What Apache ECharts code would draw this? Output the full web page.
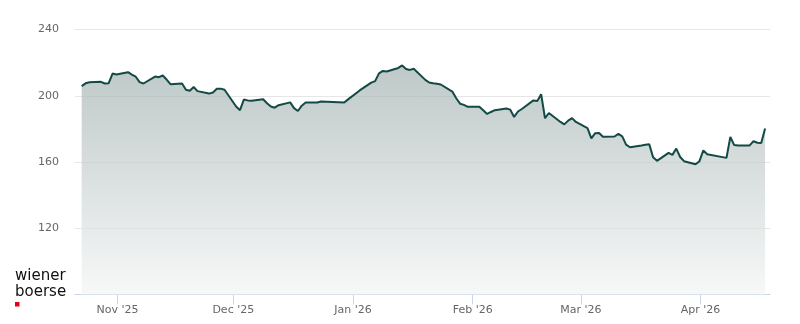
<!DOCTYPE html>
<html>
<head>
<meta charset="utf-8">
<script src="https://cdn.jsdelivr.net/npm/echarts@6/dist/echarts.min.js"></script>
<style>
html,body{margin:0;padding:0;background:#fff;}
#chart{width:800px;height:324px;}
</style>
</head>
<body>
<div id="chart"></div>
<script>
// ---- data ----
const dates = [
'2025-10-22','2025-10-23','2025-10-24','2025-10-27','2025-10-28','2025-10-29','2025-10-30','2025-10-31',
'2025-11-03','2025-11-04','2025-11-05','2025-11-06','2025-11-07',
'2025-11-10','2025-11-11','2025-11-12','2025-11-13','2025-11-14',
'2025-11-17','2025-11-18','2025-11-19','2025-11-20','2025-11-21',
'2025-11-24','2025-11-25','2025-11-26','2025-11-27','2025-11-28',
'2025-12-01','2025-12-02','2025-12-03','2025-12-04','2025-12-05',
'2025-12-08','2025-12-09','2025-12-10','2025-12-11','2025-12-12',
'2025-12-15','2025-12-16','2025-12-17','2025-12-18','2025-12-19',
'2025-12-22','2025-12-23','2025-12-29','2025-12-30',
'2026-01-02','2026-01-05','2026-01-06','2026-01-07','2026-01-08','2026-01-09',
'2026-01-12','2026-01-13','2026-01-14','2026-01-15','2026-01-16',
'2026-01-19','2026-01-20','2026-01-21','2026-01-22','2026-01-23',
'2026-01-26','2026-01-27','2026-01-28','2026-01-29','2026-01-30',
'2026-02-02','2026-02-03','2026-02-04','2026-02-05','2026-02-06',
'2026-02-09','2026-02-10','2026-02-11','2026-02-12','2026-02-13',
'2026-02-16','2026-02-17','2026-02-18','2026-02-19','2026-02-20',
'2026-02-23','2026-02-24','2026-02-25','2026-02-26','2026-02-27',
'2026-03-02','2026-03-03','2026-03-04','2026-03-05','2026-03-06',
'2026-03-09','2026-03-10','2026-03-11','2026-03-12','2026-03-13',
'2026-03-16','2026-03-17','2026-03-18','2026-03-19','2026-03-20',
'2026-03-23','2026-03-24','2026-03-25','2026-03-26','2026-03-27',
'2026-03-30','2026-03-31','2026-04-01','2026-04-02',
'2026-04-07','2026-04-08','2026-04-09','2026-04-10',
'2026-04-13','2026-04-14','2026-04-15','2026-04-16','2026-04-17'
];
const prices = [
205.8,207.5,208.2,208.4,207.4,207.6,213.4,212.8,
214.2,212.8,211.5,208.2,207.4,
211.6,211.2,212.2,209.8,207.0,
207.4,203.6,203.0,205.3,202.8,
201.3,202.0,204.2,204.3,203.6,
193.5,191.3,197.7,197.2,197.0,
197.9,195.5,193.5,192.8,194.3,
196.0,192.5,190.8,194.0,195.9,
195.9,196.5,195.9,197.8,
203.2,207.9,208.8,213.5,215.0,214.6,
216.8,218.3,216.2,215.6,216.3,
209.6,208.0,207.5,207.2,206.8,
202.5,198.5,195.2,194.5,193.3,
193.3,191.2,189.0,190.2,191.3,
192.3,191.6,187.2,190.5,192.0,
197.2,196.9,200.9,186.4,189.6,
184.2,182.7,185.0,186.5,184.2,
180.5,174.3,177.4,177.5,175.2,
175.4,177.0,175.5,170.5,168.9,
170.0,170.4,170.7,162.8,160.7,
165.5,164.3,168.1,163.0,160.5,
158.6,160.5,167.0,164.7,
162.5,175.2,170.2,170.0,
170.0,172.6,171.6,171.5,180.2
];
const monthTicks = ['2025-11-01','2025-12-01','2026-01-01','2026-02-01','2026-03-01','2026-04-01'];
const monthNames = ['Jan','Feb','Mar','Apr','May','Jun','Jul','Aug','Sep','Oct','Nov','Dec'];
const axisStart = '2025-10-21';
const axisEnd = '2026-04-19';
const yMin = 80, yMax = 240, yStep = 40;

// ---- helpers ----
function ts(s, h, m) {
  const p = s.split('-').map(Number);
  return new Date(p[0], p[1]-1, p[2], h||0, m||0).getTime();
}
const seriesData = dates.map((d, i) => [ts(d, 17, 30), prices[i]]);
const tickValues = monthTicks.map(d => ts(d));

const chart = echarts.init(document.getElementById('chart'), null, {renderer: 'canvas'});
chart.setOption({
  animation: false,
  backgroundColor: '#ffffff',
  grid: {left: 75, right: 30, top: 29.5, bottom: 29.5, containLabel: false},
  xAxis: {
    type: 'value',
    min: ts(axisStart),
    max: ts(axisEnd),
    scale: true,
    axisLine: {show: true, onZero: false, lineStyle: {color: '#ccd6eb', width: 1}},
    axisTick: {show: true, length: 10, lineStyle: {color: '#ccd6eb'}, customValues: tickValues},
    axisLabel: {
      customValues: tickValues,
      color: '#666666',
      fontSize: 11,
      fontFamily: 'DejaVu Sans',
      margin: 10,
      formatter: function (v) {
        const d = new Date(v);
        return monthNames[d.getMonth()] + " '" + String(d.getFullYear()).slice(2);
      }
    },
    splitLine: {show: false}
  },
  yAxis: {
    type: 'value',
    min: yMin, max: yMax, interval: yStep,
    axisLine: {show: false},
    axisTick: {show: false},
    axisLabel: {
      color: '#666666', fontSize: 11, fontFamily: 'DejaVu Sans', margin: 16,
      formatter: function (v) { return v === yMin ? '' : String(v); }
    },
    splitLine: {show: true, lineStyle: {color: '#e6e6e6', width: 1}}
  },
  series: [{
    type: 'line',
    data: seriesData,
    showSymbol: false,
    symbol: 'none',
    lineStyle: {color: '#134a45', width: 2},
    areaStyle: {
      origin: 'start',
      color: new echarts.graphic.LinearGradient(0, 0, 0, 1, [
        {offset: 0, color: '#a2b2b0'},
        {offset: 1, color: '#f4f5f5'}
      ])
    },
    z: 3
  }],
  graphic: [
    {type: 'text', left: 15, top: 269, style: {text: 'wiener', font: '500 15px "DejaVu Sans"', fill: '#111111'}},
    {type: 'text', left: 15, top: 285, style: {text: 'boerse', font: '500 15px "DejaVu Sans"', fill: '#111111'}},
    {type: 'rect', shape: {x: 15, y: 302, width: 4.5, height: 4.5}, style: {fill: '#e2001a'}}
  ]
});
</script>
</body>
</html>
